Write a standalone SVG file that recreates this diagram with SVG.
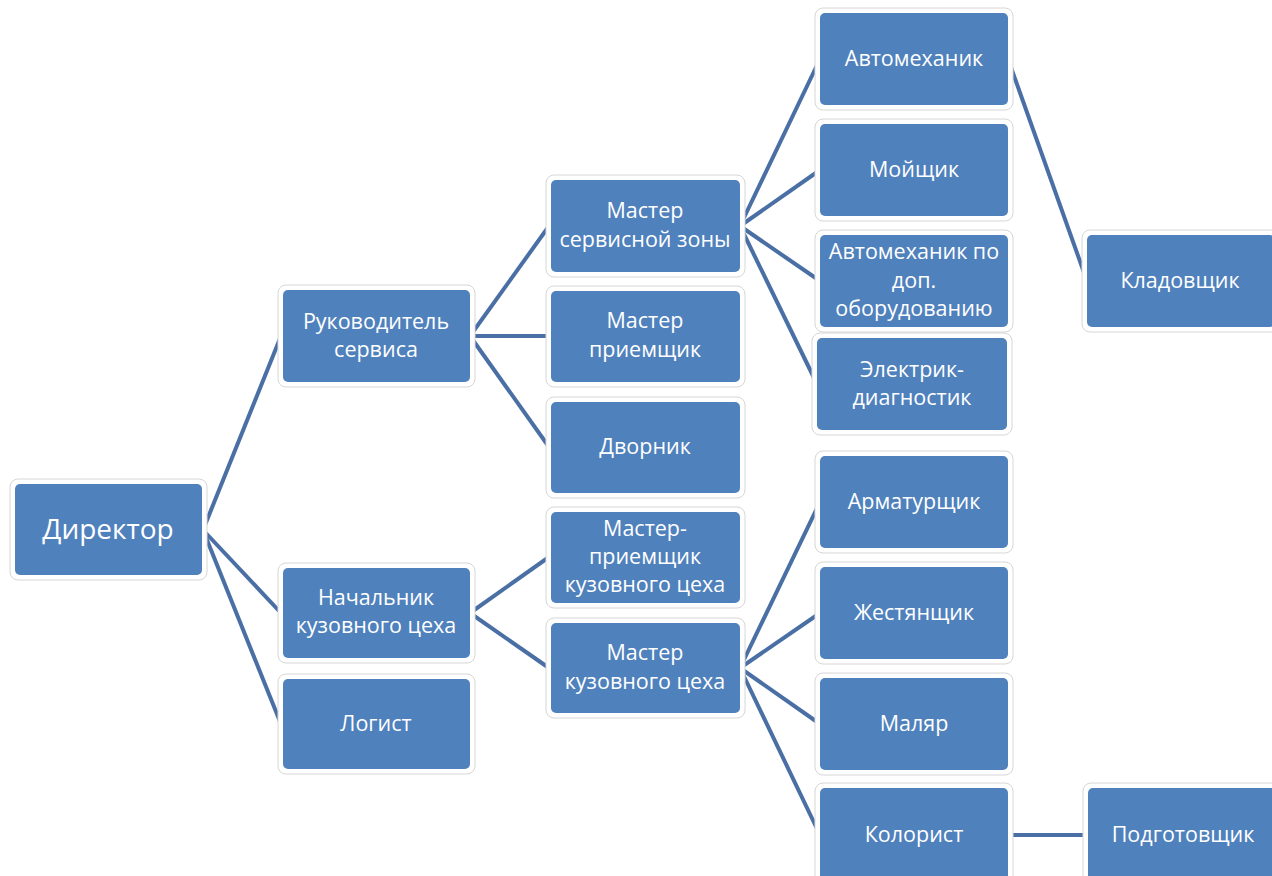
<svg xmlns="http://www.w3.org/2000/svg" width="1272" height="876" viewBox="0 0 1272 876">
<style>
.o{fill:#ffffff;stroke:#d6d6d6;stroke-width:1}
.b{fill:#4F81BD}
.t{font-family:"Open Sans","Noto Sans",sans-serif;font-size:21.5px;fill:#ffffff;text-anchor:middle}
.big{font-size:28px}
.c{stroke:#4A6FA5;stroke-width:4;fill:none;stroke-linecap:butt}
</style>
<rect width="1272" height="876" fill="#ffffff"/>
<g id="connectors">
<line class="c" x1="203" y1="530" x2="281" y2="336"/>
<line class="c" x1="203" y1="530" x2="281" y2="613"/>
<line class="c" x1="203" y1="530" x2="281" y2="724"/>
<line class="c" x1="470" y1="336" x2="549" y2="226"/>
<line class="c" x1="470" y1="336" x2="549" y2="336"/>
<line class="c" x1="470" y1="336" x2="549" y2="447"/>
<line class="c" x1="470" y1="613" x2="549" y2="557"/>
<line class="c" x1="470" y1="613" x2="549" y2="668"/>
<line class="c" x1="740" y1="226" x2="820" y2="59"/>
<line class="c" x1="740" y1="226" x2="820" y2="170"/>
<line class="c" x1="740" y1="226" x2="820" y2="281"/>
<line class="c" x1="740" y1="226" x2="817" y2="384"/>
<line class="c" x1="740" y1="668" x2="820" y2="502"/>
<line class="c" x1="740" y1="668" x2="820" y2="613"/>
<line class="c" x1="740" y1="668" x2="820" y2="724"/>
<line class="c" x1="740" y1="668" x2="820" y2="835"/>
<line class="c" x1="1008" y1="59" x2="1087" y2="281"/>
<line class="c" x1="1008" y1="835" x2="1088" y2="835"/>
</g>
<g id="n-director"><rect class="o" x="10" y="479" width="197" height="101" rx="8"/><rect class="b" x="15" y="484" width="187" height="91" rx="5"/><text class="t big" x="108" y="539">Директор</text></g>
<g id="n-rukovoditel"><rect class="o" x="278" y="285" width="197" height="102" rx="8"/><rect class="b" x="283" y="290" width="187" height="92" rx="5"/><text class="t" x="376" y="329">Руководитель</text><text class="t" x="376" y="357">сервиса</text></g>
<g id="n-nachalnik"><rect class="o" x="278" y="563" width="197" height="100" rx="8"/><rect class="b" x="283" y="568" width="187" height="90" rx="5"/><text class="t" x="376" y="605">Начальник</text><text class="t" x="376" y="633">кузовного цеха</text></g>
<g id="n-logist"><rect class="o" x="278" y="674" width="197" height="100" rx="8"/><rect class="b" x="283" y="679" width="187" height="90" rx="5"/><text class="t" x="376" y="731">Логист</text></g>
<g id="n-master-servis"><rect class="o" x="546" y="175" width="199" height="102" rx="8"/><rect class="b" x="551" y="180" width="189" height="92" rx="5"/><text class="t" x="645" y="218">Мастер</text><text class="t" x="645" y="247">сервисной зоны</text></g>
<g id="n-master-priem"><rect class="o" x="546" y="286" width="199" height="101" rx="8"/><rect class="b" x="551" y="291" width="189" height="91" rx="5"/><text class="t" x="645" y="328">Мастер</text><text class="t" x="645" y="357">приемщик</text></g>
<g id="n-dvornik"><rect class="o" x="546" y="397" width="199" height="101" rx="8"/><rect class="b" x="551" y="402" width="189" height="91" rx="5"/><text class="t" x="645" y="454">Дворник</text></g>
<g id="n-master-priem-kuz"><rect class="o" x="546" y="507" width="199" height="101" rx="8"/><rect class="b" x="551" y="512" width="189" height="91" rx="5"/><text class="t" x="645" y="536">Мастер-</text><text class="t" x="645" y="564">приемщик</text><text class="t" x="645" y="592">кузовного цеха</text></g>
<g id="n-master-kuz"><rect class="o" x="546" y="618" width="199" height="100" rx="8"/><rect class="b" x="551" y="623" width="189" height="90" rx="5"/><text class="t" x="645" y="660">Мастер</text><text class="t" x="645" y="689">кузовного цеха</text></g>
<g id="n-avtomehanik"><rect class="o" x="815" y="8" width="198" height="102" rx="8"/><rect class="b" x="820" y="13" width="188" height="92" rx="5"/><text class="t" x="914" y="66">Автомеханик</text></g>
<g id="n-moyshik"><rect class="o" x="815" y="119" width="198" height="102" rx="8"/><rect class="b" x="820" y="124" width="188" height="92" rx="5"/><text class="t" x="914" y="177">Мойщик</text></g>
<g id="n-avtomehanik-dop"><rect class="o" x="815" y="230" width="198" height="102" rx="8"/><rect class="b" x="820" y="235" width="188" height="92" rx="5"/><text class="t" x="914" y="259">Автомеханик по</text><text class="t" x="914" y="288">доп.</text><text class="t" x="914" y="316">оборудованию</text></g>
<g id="n-elektrik"><rect class="o" x="812" y="333" width="200" height="102" rx="8"/><rect class="b" x="817" y="338" width="190" height="92" rx="5"/><text class="t" x="912" y="377">Электрик-</text><text class="t" x="912" y="405">диагностик</text></g>
<g id="n-armatur"><rect class="o" x="815" y="451" width="198" height="102" rx="8"/><rect class="b" x="820" y="456" width="188" height="92" rx="5"/><text class="t" x="914" y="509">Арматурщик</text></g>
<g id="n-zhestyan"><rect class="o" x="815" y="562" width="198" height="102" rx="8"/><rect class="b" x="820" y="567" width="188" height="92" rx="5"/><text class="t" x="914" y="620">Жестянщик</text></g>
<g id="n-malyar"><rect class="o" x="815" y="673" width="198" height="102" rx="8"/><rect class="b" x="820" y="678" width="188" height="92" rx="5"/><text class="t" x="914" y="731">Маляр</text></g>
<g id="n-kolorist"><rect class="o" x="815" y="783" width="198" height="102" rx="8"/><rect class="b" x="820" y="788" width="188" height="92" rx="5"/><text class="t" x="914" y="842">Колорист</text></g>
<g id="n-kladovshik"><rect class="o" x="1082" y="230" width="198" height="102" rx="8"/><rect class="b" x="1087" y="235" width="188" height="92" rx="5"/><text class="t" x="1180" y="288">Кладовщик</text></g>
<g id="n-podgotovshik"><rect class="o" x="1083" y="783" width="198" height="102" rx="8"/><rect class="b" x="1088" y="788" width="188" height="92" rx="5"/><text class="t" x="1183" y="842">Подготовщик</text></g>
</svg>
